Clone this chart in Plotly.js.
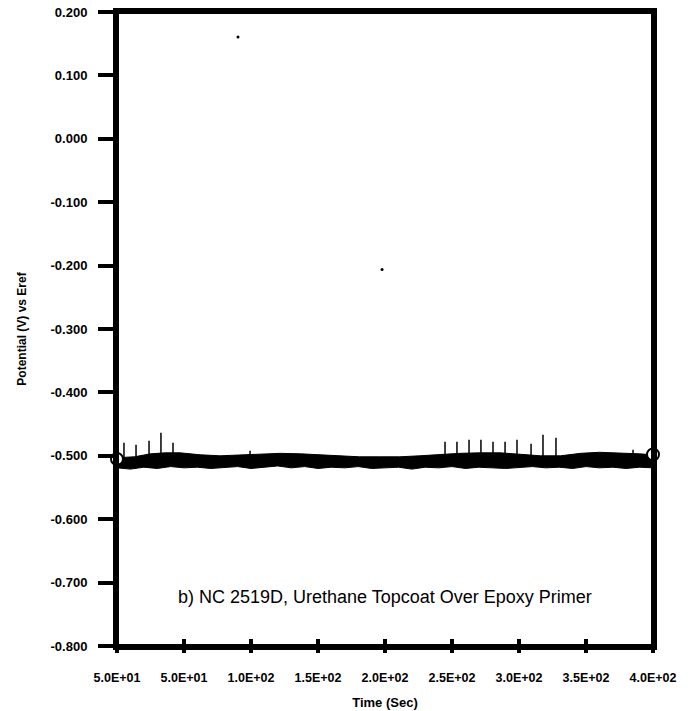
<!DOCTYPE html>
<html><head><meta charset="utf-8">
<script src="https://cdn.plot.ly/plotly-3.0.1.min.js"></script>
<style>body{margin:0;background:#fff}#chart{width:695px;height:711px}</style>
</head><body><div id="chart"></div>
<script>
// Time (s) tick positions and their printed labels (as printed on the original)
const tickVals = [0, 50, 100, 150, 200, 250, 300, 350, 400];
const tickText = ["5.0E+01","5.0E+01","1.0E+02","1.5E+02","2.0E+02","2.5E+02","3.0E+02","3.5E+02","4.0E+02"];
const yTickVals = [0.2,0.1,0,-0.1,-0.2,-0.3,-0.4,-0.5,-0.6,-0.7,-0.8];
const yTickText = ["0.200","0.100","0.000","-0.100","-0.200","-0.300","-0.400","-0.500","-0.600","-0.700","-0.800"];
const xRange = [0, 400];
const yRange = [-0.8, 0.2];

// Upper edge of the noisy potential band
const upperX = [0,13,25,36,47,62,77,92,107,122,137,151,166,181,196,211,226,241,256,271,286,301,316,331,346,360,375,390,400];
const upperY = [-0.503,-0.5016,-0.4969,-0.4953,-0.4953,-0.4984,-0.5,-0.4984,-0.4969,-0.4961,-0.4969,-0.4984,-0.5,-0.5016,-0.5016,-0.5016,-0.5,-0.4976,-0.4961,-0.4953,-0.4953,-0.4976,-0.5,-0.5,-0.4961,-0.4945,-0.4953,-0.4969,-0.4984];
// Lower edge of the band (jagged)
const lowerX = [0,10,20,30,40,50,60,70,80,90,100,110,120,130,140,150,160,170,180,190,200,210,220,230,240,250,260,270,280,290,300,310,320,330,340,350,360,370,380,390,400];
const lowerY = [-0.519,-0.521,-0.518,-0.520,-0.517,-0.519,-0.518,-0.520,-0.519,-0.517,-0.520,-0.518,-0.516,-0.519,-0.517,-0.520,-0.518,-0.519,-0.517,-0.520,-0.519,-0.518,-0.521,-0.518,-0.519,-0.517,-0.520,-0.518,-0.519,-0.520,-0.518,-0.517,-0.519,-0.518,-0.520,-0.517,-0.519,-0.518,-0.520,-0.518,-0.519];

// Upward transient spikes
const spikeX = [5.2,14.2,23.9,32.8,41.8,99.3,244.8,253.7,262.7,271.6,280.6,289.6,298.5,309,317.9,327.6,385.1];
const spikeTop = [-0.4795,-0.4827,-0.4764,-0.4638,-0.4795,-0.4921,-0.478,-0.478,-0.4748,-0.4748,-0.478,-0.478,-0.4748,-0.4811,-0.4669,-0.4717,-0.4906];
const spikeBase = -0.505;

// Open circle end markers
const endX = [0, 400];
const endY = [-0.505, -0.498];

// Stray specks in the plot area
const speckX = [90.3, 197.8];
const speckY = [0.1606, -0.2063];

const bandX = upperX.concat(lowerX.slice().reverse());
const bandY = upperY.concat(lowerY.slice().reverse());
const sx = [], sy = [];
spikeX.forEach((x,i)=>{ sx.push(x,x,null); sy.push(spikeBase, spikeTop[i], null); });

const W = 695, H = 711, M = {l:117, r:42, t:12, b:65};
const pw = W - M.l - M.r, ph = H - M.t - M.b;
const xFrac = v => (v - xRange[0]) / (xRange[1] - xRange[0]);
const YTICK_LEN = 15;
// centre of each left tick mark, half a tick length left of the axis, in data units
const yTickMarkX = yTickVals.map(() => xRange[0] - (YTICK_LEN / 2) * (xRange[1] - xRange[0]) / pw);

const traces = [
  {x: bandX, y: bandY, mode:'lines', fill:'toself', fillcolor:'#000', line:{color:'#000', width:1}, hoverinfo:'skip', showlegend:false},
  {x: sx, y: sy, mode:'lines', line:{color:'#000', width:1.5}, showlegend:false},
  {x: speckX, y: speckY, mode:'markers', marker:{color:'#000', size:3}, showlegend:false},
  {x: endX, y: endY, mode:'markers', marker:{color:'#fff', size:12, line:{color:'#000', width:2}}, cliponaxis:false, showlegend:false},
  {x: yTickMarkX, y: yTickVals, mode:'markers', marker:{symbol:'line-ew', size:YTICK_LEN, color:'#000', line:{color:'#000', width:4}}, cliponaxis:false, showlegend:false}
];

// Thick x tick marks crossing the axis, drawn as shapes at the tick values
const tickShapes = [];
tickVals.forEach(v => tickShapes.push({type:'line', xref:'paper', yref:'paper', y0:-7/ph, y1:7/ph, x0:xFrac(v), x1:xFrac(v), line:{color:'#000', width:4}, layer:'above'}));

const F = 'Liberation Sans, Arial, Helvetica, sans-serif';
const layout = {
  width: W, height: H,
  margin: M,
  paper_bgcolor:'#fff', plot_bgcolor:'#fff',
  showlegend:false,
  xaxis: {
    range:xRange, tickmode:'array', tickvals:tickVals, ticktext:tickText,
    ticks:'outside', ticklen:7, tickcolor:'rgba(0,0,0,0)',
    showline:true, linewidth:4, linecolor:'#000', mirror:true,
    showgrid:false, zeroline:false, ticklabelstandoff:10,
    tickfont:{family:F, size:12.5, color:'#000', weight:'bold'},
    title:{text:'Time (Sec)', font:{family:F, size:13, color:'#000', weight:'bold'}, standoff:15}
  },
  yaxis: {
    range:yRange, tickmode:'array', tickvals:yTickVals, ticktext:yTickText,
    ticks:'outside', ticklen:YTICK_LEN, tickwidth:4, tickcolor:'#000',
    showline:true, linewidth:4, linecolor:'#000', mirror:true,
    showgrid:false, zeroline:false, ticklabelstandoff:8,
    tickfont:{family:F, size:13, color:'#000', weight:'bold'},
    title:{text:'Potential (V) vs Eref', font:{family:F, size:12, color:'#000', weight:'bold'}, standoff:22}
  },
  shapes: [{type:'rect', xref:'paper', yref:'paper', x0:0, x1:1, y0:0, y1:1, line:{color:'#000', width:4}, layer:'above'}].concat(tickShapes),
  annotations: [{
    x:200, y:-0.722, xref:'x', yref:'y', showarrow:false,
    text:'b) NC 2519D, Urethane Topcoat Over Epoxy Primer',
    font:{family:F, size:18, color:'#000'}
  }]
};
Plotly.newPlot('chart', traces, layout, {staticPlot:true, displayModeBar:false});
</script></body></html>
